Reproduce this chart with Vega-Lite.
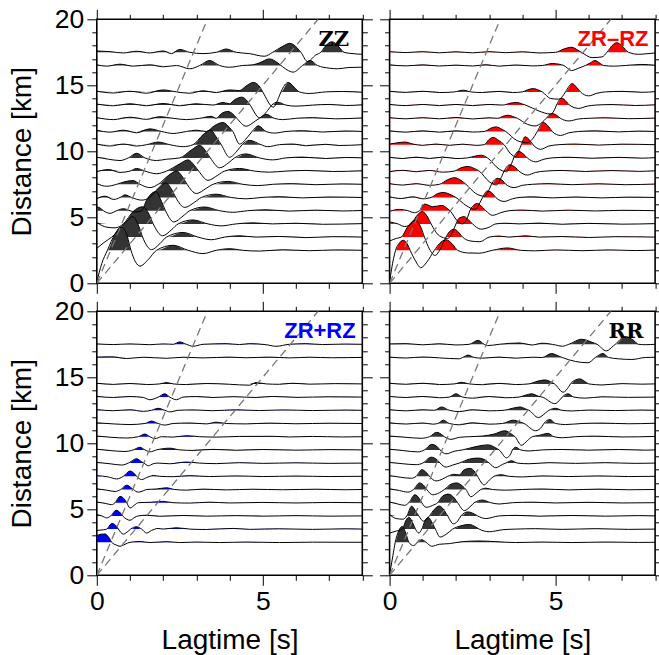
{
"$schema":"https://vega.github.io/schema/vega-lite/v6.json",
"background":"white",
"padding":{"left":6.8,"top":5.3,"right":0,"bottom":0},
"spacing":-1,
"config":{"view":{"stroke":"black","strokeWidth":1.6},
"axis":{"domain":false,"grid":false,"tickColor":"black","tickWidth":1,"labelColor":"black","labelFont":"Liberation Sans","labelFontSize":26.5,"labelPadding":3,"titleFont":"Liberation Sans","titleFontSize":28,"titleFontWeight":"normal","titleColor":"black","labelFlush":false,"labelOverlap":false,"minExtent":0}},
"datasets":{
"g":[{"k":"f","t":0,"y":0},{"k":"f","t":3.333,"y":20},{"k":"s","t":0,"y":0},{"k":"s","t":6.667,"y":20}],
"lab":[{"p":"A","t":7.6,"y":18,"s":"ZZ"},{"p":"B","t":7.8,"y":18,"s":"ZR–RZ"},{"p":"C","t":7.8,"y":18,"s":"ZR+RZ"},{"p":"D","t":7.65,"y":17.95,"s":"RR"}],
"A":[
{"d":2.5,"t":0,"a":-2.4},{"d":2.5,"t":0.15,"a":-1},{"d":2.5,"t":0.32,"a":0},{"d":2.5,"t":0.55,"a":1.25},{"d":2.5,"t":0.74,"a":1.78},{"d":2.5,"t":0.92,"a":1.05},{"d":2.5,"t":1.03,"a":0},{"d":2.5,"t":1.3,"a":-1.2},{"d":2.5,"t":1.55,"a":-0.7},{"d":2.5,"t":1.8,"a":0},{"d":2.5,"t":2.3,"a":0.38},{"d":2.5,"t":2.75,"a":0},{"d":2.5,"t":3.2,"a":-0.25},{"d":2.5,"t":3.6,"a":0},{"d":2.5,"t":4,"a":0.12},{"d":2.5,"t":4.4,"a":0},{"d":2.5,"t":4.9,"a":-0.06},{"d":2.5,"t":5.6,"a":0.04},{"d":2.5,"t":6.4,"a":-0.03},{"d":2.5,"t":7.2,"a":0.03},{"d":2.5,"t":8,"a":0},
{"d":3.5,"t":0,"a":-0.85},{"d":3.5,"t":0.25,"a":-0.35},{"d":3.5,"t":0.45,"a":0},{"d":3.5,"t":0.85,"a":1.05},{"d":3.5,"t":1.08,"a":1.55},{"d":3.5,"t":1.27,"a":0.8},{"d":3.5,"t":1.38,"a":0},{"d":3.5,"t":1.65,"a":-0.95},{"d":3.5,"t":1.9,"a":-0.5},{"d":3.5,"t":2.1,"a":0},{"d":3.5,"t":2.6,"a":0.35},{"d":3.5,"t":3.05,"a":0},{"d":3.5,"t":3.45,"a":-0.2},{"d":3.5,"t":3.85,"a":0},{"d":3.5,"t":4.3,"a":0.1},{"d":3.5,"t":4.8,"a":0},{"d":3.5,"t":5.5,"a":0.05},{"d":3.5,"t":6.3,"a":-0.04},{"d":3.5,"t":7.1,"a":0.03},{"d":3.5,"t":8,"a":0},
{"d":4.5,"t":0,"a":0.1},{"d":4.5,"t":0.3,"a":-0.25},{"d":4.5,"t":0.55,"a":-0.3},{"d":4.5,"t":0.8,"a":0},{"d":4.5,"t":1.1,"a":0.95},{"d":4.5,"t":1.38,"a":1.3},{"d":4.5,"t":1.58,"a":0.7},{"d":4.5,"t":1.7,"a":0},{"d":4.5,"t":1.98,"a":-0.9},{"d":4.5,"t":2.25,"a":-0.45},{"d":4.5,"t":2.45,"a":0},{"d":4.5,"t":2.9,"a":0.3},{"d":4.5,"t":3.35,"a":0},{"d":4.5,"t":3.75,"a":-0.15},{"d":4.5,"t":4.2,"a":0},{"d":4.5,"t":4.7,"a":0.08},{"d":4.5,"t":5.3,"a":0},{"d":4.5,"t":6,"a":0.05},{"d":4.5,"t":6.8,"a":-0.03},{"d":4.5,"t":8,"a":0.02},
{"d":5.5,"t":0,"a":0.3},{"d":5.5,"t":0.1,"a":0.2},{"d":5.5,"t":0.2,"a":0},{"d":5.5,"t":0.4,"a":-0.2},{"d":5.5,"t":0.6,"a":0},{"d":5.5,"t":0.8,"a":0.15},{"d":5.5,"t":1,"a":0},{"d":5.5,"t":1.15,"a":-0.1},{"d":5.5,"t":1.35,"a":0},{"d":5.5,"t":1.5,"a":0.8},{"d":5.5,"t":1.78,"a":1.45},{"d":5.5,"t":1.95,"a":0.7},{"d":5.5,"t":2.07,"a":0},{"d":5.5,"t":2.32,"a":-0.85},{"d":5.5,"t":2.6,"a":-0.4},{"d":5.5,"t":2.8,"a":0},{"d":5.5,"t":3.25,"a":0.28},{"d":5.5,"t":3.7,"a":0},{"d":5.5,"t":4.1,"a":-0.12},{"d":5.5,"t":4.55,"a":0},{"d":5.5,"t":5.1,"a":0.07},{"d":5.5,"t":5.8,"a":-0.03},{"d":5.5,"t":6.6,"a":0.04},{"d":5.5,"t":7.4,"a":-0.02},{"d":5.5,"t":8,"a":0.02},
{"d":6.5,"t":0,"a":-0.1},{"d":6.5,"t":0.25,"a":0.1},{"d":6.5,"t":0.5,"a":-0.15},{"d":6.5,"t":0.7,"a":0},{"d":6.5,"t":0.85,"a":0.2},{"d":6.5,"t":1.05,"a":0},{"d":6.5,"t":1.35,"a":-0.2},{"d":6.5,"t":1.6,"a":0},{"d":6.5,"t":1.85,"a":0.7},{"d":6.5,"t":2.08,"a":1.1},{"d":6.5,"t":2.27,"a":0.55},{"d":6.5,"t":2.38,"a":0},{"d":6.5,"t":2.65,"a":-0.75},{"d":6.5,"t":2.95,"a":-0.35},{"d":6.5,"t":3.15,"a":0},{"d":6.5,"t":3.6,"a":0.25},{"d":6.5,"t":4.05,"a":0},{"d":6.5,"t":4.5,"a":-0.1},{"d":6.5,"t":4.95,"a":0},{"d":6.5,"t":5.5,"a":0.06},{"d":6.5,"t":6.2,"a":-0.03},{"d":6.5,"t":7,"a":0.04},{"d":6.5,"t":8,"a":0},
{"d":7.5,"t":0,"a":0.05},{"d":7.5,"t":0.3,"a":-0.15},{"d":7.5,"t":0.6,"a":0},{"d":7.5,"t":0.85,"a":0.2},{"d":7.5,"t":1.1,"a":0.28},{"d":7.5,"t":1.3,"a":0},{"d":7.5,"t":1.6,"a":-0.25},{"d":7.5,"t":1.85,"a":0},{"d":7.5,"t":2.15,"a":0.65},{"d":7.5,"t":2.4,"a":1},{"d":7.5,"t":2.6,"a":0.5},{"d":7.5,"t":2.72,"a":0},{"d":7.5,"t":3,"a":-0.7},{"d":7.5,"t":3.3,"a":-0.3},{"d":7.5,"t":3.5,"a":0},{"d":7.5,"t":3.95,"a":0.22},{"d":7.5,"t":4.4,"a":0},{"d":7.5,"t":4.85,"a":-0.1},{"d":7.5,"t":5.3,"a":0},{"d":7.5,"t":5.9,"a":0.05},{"d":7.5,"t":6.6,"a":-0.03},{"d":7.5,"t":7.4,"a":0.03},{"d":7.5,"t":8,"a":0},
{"d":8.5,"t":0,"a":-0.05},{"d":8.5,"t":0.35,"a":0.12},{"d":8.5,"t":0.7,"a":-0.1},{"d":8.5,"t":1,"a":0},{"d":8.5,"t":1.2,"a":0.2},{"d":8.5,"t":1.45,"a":0},{"d":8.5,"t":1.8,"a":-0.2},{"d":8.5,"t":2.1,"a":0},{"d":8.5,"t":2.5,"a":0.55},{"d":8.5,"t":2.75,"a":0.85},{"d":8.5,"t":2.95,"a":0.4},{"d":8.5,"t":3.07,"a":0},{"d":8.5,"t":3.35,"a":-0.7},{"d":8.5,"t":3.65,"a":-0.3},{"d":8.5,"t":3.85,"a":0},{"d":8.5,"t":4.3,"a":0.2},{"d":8.5,"t":4.75,"a":0},{"d":8.5,"t":5.2,"a":-0.08},{"d":8.5,"t":5.7,"a":0},{"d":8.5,"t":6.3,"a":0.05},{"d":8.5,"t":7.1,"a":-0.03},{"d":8.5,"t":8,"a":0.02},
{"d":9.5,"t":0,"a":0.05},{"d":9.5,"t":0.35,"a":-0.1},{"d":9.5,"t":0.7,"a":-0.2},{"d":9.5,"t":0.95,"a":0},{"d":9.5,"t":1.2,"a":0.35},{"d":9.5,"t":1.45,"a":0},{"d":9.5,"t":1.8,"a":-0.2},{"d":9.5,"t":2.1,"a":-0.1},{"d":9.5,"t":2.5,"a":0},{"d":9.5,"t":2.85,"a":0.6},{"d":9.5,"t":3.1,"a":0.95},{"d":9.5,"t":3.3,"a":0.45},{"d":9.5,"t":3.42,"a":0},{"d":9.5,"t":3.7,"a":-0.75},{"d":9.5,"t":3.98,"a":-0.35},{"d":9.5,"t":4.15,"a":0},{"d":9.5,"t":4.5,"a":0.3},{"d":9.5,"t":4.9,"a":0},{"d":9.5,"t":5.3,"a":-0.15},{"d":9.5,"t":5.7,"a":0},{"d":9.5,"t":6.2,"a":0.06},{"d":9.5,"t":6.9,"a":-0.05},{"d":9.5,"t":7.5,"a":0.03},{"d":9.5,"t":8,"a":0},
{"d":10.5,"t":0,"a":0.05},{"d":10.5,"t":0.4,"a":-0.1},{"d":10.5,"t":0.8,"a":0.05},{"d":10.5,"t":1.2,"a":-0.1},{"d":10.5,"t":1.5,"a":0},{"d":10.5,"t":1.85,"a":0.2},{"d":10.5,"t":2.2,"a":0},{"d":10.5,"t":2.6,"a":-0.15},{"d":10.5,"t":2.9,"a":0},{"d":10.5,"t":3.2,"a":0.75},{"d":10.5,"t":3.42,"a":1.1},{"d":10.5,"t":3.62,"a":0.5},{"d":10.5,"t":3.75,"a":0},{"d":10.5,"t":4,"a":-0.95},{"d":10.5,"t":4.25,"a":-0.4},{"d":10.5,"t":4.38,"a":0},{"d":10.5,"t":4.6,"a":0.33},{"d":10.5,"t":4.95,"a":0},{"d":10.5,"t":5.15,"a":-0.15},{"d":10.5,"t":5.5,"a":0},{"d":10.5,"t":5.9,"a":0.05},{"d":10.5,"t":6.3,"a":-0.08},{"d":10.5,"t":6.9,"a":0.03},{"d":10.5,"t":7.3,"a":-0.06},{"d":10.5,"t":8,"a":0},
{"d":11.5,"t":0,"a":0.1},{"d":11.5,"t":0.4,"a":-0.05},{"d":11.5,"t":0.8,"a":0.1},{"d":11.5,"t":1.2,"a":-0.1},{"d":11.5,"t":1.6,"a":0.2},{"d":11.5,"t":1.95,"a":0},{"d":11.5,"t":2.3,"a":-0.15},{"d":11.5,"t":2.7,"a":0},{"d":11.5,"t":3,"a":0.1},{"d":11.5,"t":3.3,"a":0},{"d":11.5,"t":3.55,"a":0.45},{"d":11.5,"t":3.8,"a":0.68},{"d":11.5,"t":4,"a":0.3},{"d":11.5,"t":4.1,"a":0},{"d":11.5,"t":4.3,"a":-0.95},{"d":11.5,"t":4.55,"a":-0.4},{"d":11.5,"t":4.68,"a":0},{"d":11.5,"t":4.87,"a":0.43},{"d":11.5,"t":5.1,"a":0},{"d":11.5,"t":5.35,"a":-0.12},{"d":11.5,"t":5.7,"a":0},{"d":11.5,"t":6.2,"a":0.06},{"d":11.5,"t":6.8,"a":-0.04},{"d":11.5,"t":7.5,"a":0.04},{"d":11.5,"t":8,"a":0},
{"d":12.5,"t":0,"a":0.05},{"d":12.5,"t":0.5,"a":-0.1},{"d":12.5,"t":1,"a":0.08},{"d":12.5,"t":1.5,"a":-0.08},{"d":12.5,"t":1.9,"a":0.12},{"d":12.5,"t":2.3,"a":0},{"d":12.5,"t":2.7,"a":-0.1},{"d":12.5,"t":3.1,"a":0},{"d":12.5,"t":3.45,"a":0.15},{"d":12.5,"t":3.6,"a":0},{"d":12.5,"t":3.75,"a":0.35},{"d":12.5,"t":3.95,"a":0.52},{"d":12.5,"t":4.15,"a":0.2},{"d":12.5,"t":4.22,"a":0},{"d":12.5,"t":4.5,"a":-0.6},{"d":12.5,"t":4.78,"a":-0.2},{"d":12.5,"t":4.9,"a":0},{"d":12.5,"t":5.1,"a":0.3},{"d":12.5,"t":5.35,"a":0},{"d":12.5,"t":5.6,"a":-0.1},{"d":12.5,"t":6,"a":0},{"d":12.5,"t":6.5,"a":0.05},{"d":12.5,"t":7.2,"a":-0.04},{"d":12.5,"t":8,"a":0.03},
{"d":13.5,"t":0,"a":0.08},{"d":13.5,"t":0.5,"a":-0.05},{"d":13.5,"t":1,"a":0.1},{"d":13.5,"t":1.5,"a":-0.05},{"d":13.5,"t":2,"a":0.12},{"d":13.5,"t":2.5,"a":-0.05},{"d":13.5,"t":3,"a":0.1},{"d":13.5,"t":3.5,"a":0},{"d":13.5,"t":3.8,"a":0.2},{"d":13.5,"t":4,"a":0.1},{"d":13.5,"t":4.15,"a":0.4},{"d":13.5,"t":4.37,"a":0.6},{"d":13.5,"t":4.55,"a":0.25},{"d":13.5,"t":4.62,"a":0},{"d":13.5,"t":4.9,"a":-0.95},{"d":13.5,"t":5.15,"a":-0.4},{"d":13.5,"t":5.27,"a":0},{"d":13.5,"t":5.45,"a":0.22},{"d":13.5,"t":5.7,"a":0},{"d":13.5,"t":6,"a":-0.08},{"d":13.5,"t":6.5,"a":0},{"d":13.5,"t":7,"a":0.05},{"d":13.5,"t":7.5,"a":-0.03},{"d":13.5,"t":8,"a":0.02},
{"d":14.5,"t":0,"a":0.05},{"d":14.5,"t":0.5,"a":-0.08},{"d":14.5,"t":1,"a":0.05},{"d":14.5,"t":1.5,"a":-0.1},{"d":14.5,"t":2,"a":0.15},{"d":14.5,"t":2.4,"a":0},{"d":14.5,"t":2.8,"a":-0.1},{"d":14.5,"t":3.2,"a":0.08},{"d":14.5,"t":3.6,"a":-0.05},{"d":14.5,"t":4,"a":0.15},{"d":14.5,"t":4.3,"a":0.1},{"d":14.5,"t":4.5,"a":0.45},{"d":14.5,"t":4.72,"a":0.72},{"d":14.5,"t":4.92,"a":0.35},{"d":14.5,"t":5,"a":0},{"d":14.5,"t":5.32,"a":-1.15},{"d":14.5,"t":5.5,"a":-0.3},{"d":14.5,"t":5.55,"a":0},{"d":14.5,"t":5.77,"a":0.72},{"d":14.5,"t":5.95,"a":0.35},{"d":14.5,"t":6.1,"a":0},{"d":14.5,"t":6.4,"a":-0.12},{"d":14.5,"t":6.9,"a":0},{"d":14.5,"t":7.4,"a":0.03},{"d":14.5,"t":8,"a":-0.03},
{"d":16.5,"t":0,"a":0.05},{"d":16.5,"t":0.3,"a":-0.05},{"d":16.5,"t":0.7,"a":0.1},{"d":16.5,"t":1.1,"a":-0.05},{"d":16.5,"t":1.6,"a":0.05},{"d":16.5,"t":2,"a":-0.1},{"d":16.5,"t":2.4,"a":0},{"d":16.5,"t":2.8,"a":-0.25},{"d":16.5,"t":3.1,"a":0},{"d":16.5,"t":3.4,"a":0.38},{"d":16.5,"t":3.7,"a":0},{"d":16.5,"t":4,"a":-0.13},{"d":16.5,"t":4.4,"a":0},{"d":16.5,"t":4.7,"a":0.05},{"d":16.5,"t":4.9,"a":0.2},{"d":16.5,"t":5.2,"a":0.5},{"d":16.5,"t":5.45,"a":0.2},{"d":16.5,"t":5.55,"a":0},{"d":16.5,"t":5.92,"a":-0.5},{"d":16.5,"t":6.2,"a":0},{"d":16.5,"t":6.43,"a":0.38},{"d":16.5,"t":6.65,"a":0},{"d":16.5,"t":7,"a":-0.2},{"d":16.5,"t":7.25,"a":-0.25},{"d":16.5,"t":7.6,"a":-0.15},{"d":16.5,"t":8,"a":-0.13},
{"d":17.5,"t":0,"a":0.1},{"d":17.5,"t":0.4,"a":0.05},{"d":17.5,"t":0.8,"a":-0.05},{"d":17.5,"t":1.2,"a":0.08},{"d":17.5,"t":1.6,"a":-0.05},{"d":17.5,"t":2,"a":0.1},{"d":17.5,"t":2.25,"a":-0.1},{"d":17.5,"t":2.5,"a":0.22},{"d":17.5,"t":2.8,"a":0},{"d":17.5,"t":3.2,"a":-0.1},{"d":17.5,"t":3.6,"a":0},{"d":17.5,"t":3.9,"a":0.25},{"d":17.5,"t":4.2,"a":0},{"d":17.5,"t":4.6,"a":-0.1},{"d":17.5,"t":5.05,"a":-0.3},{"d":17.5,"t":5.3,"a":0},{"d":17.5,"t":5.6,"a":0.45},{"d":17.5,"t":5.82,"a":0.68},{"d":17.5,"t":6.05,"a":0.3},{"d":17.5,"t":6.15,"a":0},{"d":17.5,"t":6.35,"a":-0.7},{"d":17.5,"t":6.6,"a":-0.2},{"d":17.5,"t":6.75,"a":0},{"d":17.5,"t":6.9,"a":0.5},{"d":17.5,"t":7.08,"a":0.8},{"d":17.5,"t":7.3,"a":0.4},{"d":17.5,"t":7.45,"a":0},{"d":17.5,"t":7.63,"a":-0.08},{"d":17.5,"t":8,"a":-0.15}
],
"B":[
{"d":2.5,"t":0,"a":-2.4},{"d":2.5,"t":0.12,"a":-0.6},{"d":2.5,"t":0.18,"a":0},{"d":2.5,"t":0.28,"a":0.5},{"d":2.5,"t":0.41,"a":0.76},{"d":2.5,"t":0.55,"a":0.4},{"d":2.5,"t":0.62,"a":0},{"d":2.5,"t":0.78,"a":-0.8},{"d":2.5,"t":0.94,"a":-1.32},{"d":2.5,"t":1.12,"a":-0.9},{"d":2.5,"t":1.35,"a":0},{"d":2.5,"t":1.5,"a":0.5},{"d":2.5,"t":1.7,"a":0.8},{"d":2.5,"t":1.9,"a":0.45},{"d":2.5,"t":2.05,"a":0},{"d":2.5,"t":2.35,"a":-0.2},{"d":2.5,"t":2.7,"a":-0.22},{"d":2.5,"t":3.1,"a":0},{"d":2.5,"t":3.55,"a":0.18},{"d":2.5,"t":3.95,"a":0},{"d":2.5,"t":4.4,"a":-0.04},{"d":2.5,"t":5,"a":0.03},{"d":2.5,"t":5.8,"a":-0.03},{"d":2.5,"t":6.6,"a":0.03},{"d":2.5,"t":7.4,"a":-0.02},{"d":2.5,"t":8,"a":0.02},
{"d":3.5,"t":0,"a":-0.3},{"d":3.5,"t":0.2,"a":-0.1},{"d":3.5,"t":0.35,"a":0},{"d":3.5,"t":0.55,"a":0.8},{"d":3.5,"t":0.76,"a":1.27},{"d":3.5,"t":0.95,"a":0.7},{"d":3.5,"t":1.05,"a":0},{"d":3.5,"t":1.2,"a":-0.9},{"d":3.5,"t":1.37,"a":-1.39},{"d":3.5,"t":1.55,"a":-0.8},{"d":3.5,"t":1.7,"a":0},{"d":3.5,"t":1.8,"a":0.4},{"d":3.5,"t":1.95,"a":0.6},{"d":3.5,"t":2.1,"a":0.3},{"d":3.5,"t":2.2,"a":0},{"d":3.5,"t":2.45,"a":-0.3},{"d":3.5,"t":2.72,"a":-0.35},{"d":3.5,"t":3,"a":0},{"d":3.5,"t":3.3,"a":0.08},{"d":3.5,"t":3.6,"a":0},{"d":3.5,"t":4.1,"a":0.1},{"d":3.5,"t":4.5,"a":0},{"d":3.5,"t":5.2,"a":0.04},{"d":3.5,"t":6,"a":-0.03},{"d":3.5,"t":6.8,"a":0.03},{"d":3.5,"t":8,"a":0},
{"d":4.5,"t":0,"a":0.15},{"d":4.5,"t":0.25,"a":0},{"d":4.5,"t":0.45,"a":-0.2},{"d":4.5,"t":0.65,"a":0},{"d":4.5,"t":0.8,"a":0.55},{"d":4.5,"t":0.98,"a":0.94},{"d":4.5,"t":1.15,"a":0.5},{"d":4.5,"t":1.25,"a":0},{"d":4.5,"t":1.5,"a":-0.9},{"d":4.5,"t":1.75,"a":-1.1},{"d":4.5,"t":1.9,"a":-0.6},{"d":4.5,"t":2,"a":0},{"d":4.5,"t":2.1,"a":0.45},{"d":4.5,"t":2.25,"a":0.55},{"d":4.5,"t":2.4,"a":0.25},{"d":4.5,"t":2.5,"a":0},{"d":4.5,"t":2.75,"a":-0.4},{"d":4.5,"t":3,"a":-0.25},{"d":4.5,"t":3.2,"a":0},{"d":4.5,"t":3.5,"a":0.05},{"d":4.5,"t":3.9,"a":0},{"d":4.5,"t":4.5,"a":0.06},{"d":4.5,"t":5.2,"a":-0.03},{"d":4.5,"t":6,"a":0.04},{"d":4.5,"t":7,"a":-0.02},{"d":4.5,"t":8,"a":0.02},
{"d":5.5,"t":0,"a":-0.05},{"d":5.5,"t":0.3,"a":0.1},{"d":5.5,"t":0.55,"a":0},{"d":5.5,"t":0.75,"a":-0.15},{"d":5.5,"t":0.9,"a":0},{"d":5.5,"t":1.06,"a":0.5},{"d":5.5,"t":1.3,"a":0.3},{"d":5.5,"t":1.57,"a":0.4},{"d":5.5,"t":1.75,"a":0.15},{"d":5.5,"t":1.82,"a":0},{"d":5.5,"t":2.05,"a":-0.8},{"d":5.5,"t":2.2,"a":-1},{"d":5.5,"t":2.35,"a":-0.5},{"d":5.5,"t":2.42,"a":0},{"d":5.5,"t":2.55,"a":0.45},{"d":5.5,"t":2.65,"a":0.55},{"d":5.5,"t":2.8,"a":0.25},{"d":5.5,"t":2.9,"a":0},{"d":5.5,"t":3.1,"a":-0.35},{"d":5.5,"t":3.35,"a":-0.15},{"d":5.5,"t":3.6,"a":0},{"d":5.5,"t":4,"a":0.05},{"d":5.5,"t":4.6,"a":-0.03},{"d":5.5,"t":5.4,"a":0.04},{"d":5.5,"t":6.2,"a":-0.02},{"d":5.5,"t":7,"a":0.03},{"d":5.5,"t":8,"a":0},
{"d":6.5,"t":0,"a":0.05},{"d":6.5,"t":0.35,"a":-0.08},{"d":6.5,"t":0.7,"a":0.05},{"d":6.5,"t":1,"a":-0.1},{"d":6.5,"t":1.25,"a":0},{"d":6.5,"t":1.45,"a":0.3},{"d":6.5,"t":1.62,"a":0.38},{"d":6.5,"t":1.85,"a":0.2},{"d":6.5,"t":2,"a":0},{"d":6.5,"t":2.3,"a":-0.6},{"d":6.5,"t":2.57,"a":-0.9},{"d":6.5,"t":2.72,"a":-0.4},{"d":6.5,"t":2.8,"a":0},{"d":6.5,"t":2.95,"a":0.5},{"d":6.5,"t":3.1,"a":0.3},{"d":6.5,"t":3.2,"a":0},{"d":6.5,"t":3.45,"a":-0.3},{"d":6.5,"t":3.7,"a":-0.1},{"d":6.5,"t":3.9,"a":0},{"d":6.5,"t":4.3,"a":0.05},{"d":6.5,"t":4.9,"a":-0.03},{"d":6.5,"t":5.6,"a":0.04},{"d":6.5,"t":6.4,"a":-0.03},{"d":6.5,"t":7.2,"a":0.03},{"d":6.5,"t":8,"a":0},
{"d":7.5,"t":0,"a":0.05},{"d":7.5,"t":0.4,"a":-0.06},{"d":7.5,"t":0.8,"a":0.05},{"d":7.5,"t":1.2,"a":-0.08},{"d":7.5,"t":1.5,"a":0},{"d":7.5,"t":1.75,"a":0.35},{"d":7.5,"t":1.95,"a":0.5},{"d":7.5,"t":2.15,"a":0.3},{"d":7.5,"t":2.3,"a":0},{"d":7.5,"t":2.6,"a":-0.7},{"d":7.5,"t":2.85,"a":-0.9},{"d":7.5,"t":3,"a":-0.4},{"d":7.5,"t":3.07,"a":0},{"d":7.5,"t":3.25,"a":0.45},{"d":7.5,"t":3.42,"a":0.25},{"d":7.5,"t":3.5,"a":0},{"d":7.5,"t":3.75,"a":-0.25},{"d":7.5,"t":4,"a":-0.08},{"d":7.5,"t":4.3,"a":0},{"d":7.5,"t":4.8,"a":0.05},{"d":7.5,"t":5.5,"a":-0.03},{"d":7.5,"t":6.3,"a":0.04},{"d":7.5,"t":7.1,"a":-0.03},{"d":7.5,"t":8,"a":0.02},
{"d":8.5,"t":0,"a":-0.05},{"d":8.5,"t":0.4,"a":0.06},{"d":8.5,"t":0.8,"a":-0.05},{"d":8.5,"t":1.2,"a":0.05},{"d":8.5,"t":1.6,"a":-0.08},{"d":8.5,"t":1.95,"a":0},{"d":8.5,"t":2.15,"a":0.25},{"d":8.5,"t":2.37,"a":0.35},{"d":8.5,"t":2.55,"a":0.2},{"d":8.5,"t":2.7,"a":0},{"d":8.5,"t":3,"a":-0.8},{"d":8.5,"t":3.22,"a":-1.05},{"d":8.5,"t":3.38,"a":-0.4},{"d":8.5,"t":3.45,"a":0},{"d":8.5,"t":3.62,"a":0.48},{"d":8.5,"t":3.8,"a":0.25},{"d":8.5,"t":3.9,"a":0},{"d":8.5,"t":4.15,"a":-0.3},{"d":8.5,"t":4.4,"a":-0.1},{"d":8.5,"t":4.7,"a":0},{"d":8.5,"t":5.2,"a":0.05},{"d":8.5,"t":5.9,"a":-0.03},{"d":8.5,"t":6.7,"a":0.04},{"d":8.5,"t":7.5,"a":-0.02},{"d":8.5,"t":8,"a":0.02},
{"d":9.5,"t":0,"a":0.05},{"d":9.5,"t":0.4,"a":-0.05},{"d":9.5,"t":0.8,"a":0.06},{"d":9.5,"t":1.2,"a":-0.05},{"d":9.5,"t":1.6,"a":0.06},{"d":9.5,"t":2,"a":-0.05},{"d":9.5,"t":2.35,"a":0},{"d":9.5,"t":2.6,"a":0.15},{"d":9.5,"t":2.77,"a":0.2},{"d":9.5,"t":2.95,"a":0},{"d":9.5,"t":3.3,"a":-0.85},{"d":9.5,"t":3.52,"a":-1.05},{"d":9.5,"t":3.68,"a":-0.4},{"d":9.5,"t":3.74,"a":0},{"d":9.5,"t":3.88,"a":0.5},{"d":9.5,"t":4.05,"a":0.25},{"d":9.5,"t":4.15,"a":0},{"d":9.5,"t":4.4,"a":-0.3},{"d":9.5,"t":4.65,"a":-0.1},{"d":9.5,"t":4.9,"a":0},{"d":9.5,"t":5.4,"a":0.05},{"d":9.5,"t":6.1,"a":-0.03},{"d":9.5,"t":6.9,"a":0.04},{"d":9.5,"t":7.6,"a":-0.02},{"d":9.5,"t":8,"a":0.02},
{"d":10.5,"t":0,"a":0.05},{"d":10.5,"t":0.25,"a":0.15},{"d":10.5,"t":0.46,"a":0.2},{"d":10.5,"t":0.7,"a":0.05},{"d":10.5,"t":1,"a":-0.05},{"d":10.5,"t":1.4,"a":0.05},{"d":10.5,"t":1.8,"a":-0.05},{"d":10.5,"t":2.2,"a":0.04},{"d":10.5,"t":2.6,"a":-0.05},{"d":10.5,"t":2.85,"a":0},{"d":10.5,"t":3,"a":0.4},{"d":10.5,"t":3.12,"a":0.55},{"d":10.5,"t":3.3,"a":0.3},{"d":10.5,"t":3.45,"a":0},{"d":10.5,"t":3.65,"a":-0.7},{"d":10.5,"t":3.8,"a":-0.9},{"d":10.5,"t":3.92,"a":-0.3},{"d":10.5,"t":3.97,"a":0},{"d":10.5,"t":4.08,"a":0.6},{"d":10.5,"t":4.2,"a":0.4},{"d":10.5,"t":4.32,"a":0},{"d":10.5,"t":4.55,"a":-0.35},{"d":10.5,"t":4.8,"a":-0.1},{"d":10.5,"t":5.1,"a":0},{"d":10.5,"t":5.6,"a":0.05},{"d":10.5,"t":6.3,"a":-0.03},{"d":10.5,"t":7,"a":0.04},{"d":10.5,"t":8,"a":0},
{"d":11.5,"t":0,"a":0.05},{"d":11.5,"t":0.5,"a":-0.05},{"d":11.5,"t":1,"a":0.05},{"d":11.5,"t":1.5,"a":-0.05},{"d":11.5,"t":2,"a":0.05},{"d":11.5,"t":2.5,"a":-0.04},{"d":11.5,"t":2.85,"a":0},{"d":11.5,"t":3.05,"a":0.25},{"d":11.5,"t":3.2,"a":0.35},{"d":11.5,"t":3.4,"a":0.15},{"d":11.5,"t":3.5,"a":0},{"d":11.5,"t":3.85,"a":-0.7},{"d":11.5,"t":4.15,"a":-0.85},{"d":11.5,"t":4.38,"a":-0.3},{"d":11.5,"t":4.45,"a":0},{"d":11.5,"t":4.63,"a":0.68},{"d":11.5,"t":4.8,"a":0.35},{"d":11.5,"t":4.9,"a":0},{"d":11.5,"t":5.15,"a":-0.3},{"d":11.5,"t":5.4,"a":-0.1},{"d":11.5,"t":5.7,"a":0},{"d":11.5,"t":6.2,"a":0.05},{"d":11.5,"t":6.9,"a":-0.03},{"d":11.5,"t":7.5,"a":0.03},{"d":11.5,"t":8,"a":0},
{"d":12.5,"t":0,"a":0.05},{"d":12.5,"t":0.5,"a":-0.04},{"d":12.5,"t":1,"a":0.05},{"d":12.5,"t":1.5,"a":-0.04},{"d":12.5,"t":2,"a":0.06},{"d":12.5,"t":2.5,"a":-0.05},{"d":12.5,"t":3,"a":0.04},{"d":12.5,"t":3.25,"a":0},{"d":12.5,"t":3.45,"a":0.18},{"d":12.5,"t":3.57,"a":0.23},{"d":12.5,"t":3.75,"a":0.1},{"d":12.5,"t":3.85,"a":0},{"d":12.5,"t":4.15,"a":-0.45},{"d":12.5,"t":4.38,"a":-0.58},{"d":12.5,"t":4.6,"a":-0.3},{"d":12.5,"t":4.72,"a":0},{"d":12.5,"t":4.88,"a":0.36},{"d":12.5,"t":5.05,"a":0.2},{"d":12.5,"t":5.15,"a":0},{"d":12.5,"t":5.4,"a":-0.2},{"d":12.5,"t":5.7,"a":-0.05},{"d":12.5,"t":6,"a":0},{"d":12.5,"t":6.5,"a":0.04},{"d":12.5,"t":7.2,"a":-0.03},{"d":12.5,"t":8,"a":0.02},
{"d":13.5,"t":0,"a":0.05},{"d":13.5,"t":0.5,"a":-0.04},{"d":13.5,"t":1,"a":0.05},{"d":13.5,"t":1.5,"a":-0.04},{"d":13.5,"t":2,"a":0.05},{"d":13.5,"t":2.5,"a":-0.04},{"d":13.5,"t":3,"a":0.05},{"d":13.5,"t":3.4,"a":0},{"d":13.5,"t":3.65,"a":0.15},{"d":13.5,"t":3.83,"a":0.2},{"d":13.5,"t":4,"a":0.08},{"d":13.5,"t":4.1,"a":0},{"d":13.5,"t":4.5,"a":-0.45},{"d":13.5,"t":4.85,"a":-0.68},{"d":13.5,"t":4.98,"a":-0.3},{"d":13.5,"t":5.03,"a":0},{"d":13.5,"t":5.18,"a":0.53},{"d":13.5,"t":5.33,"a":0.25},{"d":13.5,"t":5.42,"a":0},{"d":13.5,"t":5.7,"a":-0.25},{"d":13.5,"t":5.95,"a":-0.08},{"d":13.5,"t":6.2,"a":0},{"d":13.5,"t":6.7,"a":0.04},{"d":13.5,"t":7.4,"a":-0.03},{"d":13.5,"t":8,"a":0.02},
{"d":14.5,"t":0,"a":0.05},{"d":14.5,"t":0.5,"a":-0.04},{"d":14.5,"t":1,"a":0.05},{"d":14.5,"t":1.5,"a":-0.05},{"d":14.5,"t":1.95,"a":0},{"d":14.5,"t":2.22,"a":0.13},{"d":14.5,"t":2.45,"a":0},{"d":14.5,"t":2.8,"a":-0.05},{"d":14.5,"t":3.3,"a":0.04},{"d":14.5,"t":3.7,"a":-0.05},{"d":14.5,"t":4,"a":0},{"d":14.5,"t":4.15,"a":0.15},{"d":14.5,"t":4.33,"a":0.25},{"d":14.5,"t":4.5,"a":0.12},{"d":14.5,"t":4.6,"a":0},{"d":14.5,"t":4.85,"a":-0.5},{"d":14.5,"t":5.1,"a":-0.55},{"d":14.5,"t":5.25,"a":-0.2},{"d":14.5,"t":5.3,"a":0},{"d":14.5,"t":5.5,"a":0.63},{"d":14.5,"t":5.65,"a":0.3},{"d":14.5,"t":5.75,"a":0},{"d":14.5,"t":6,"a":-0.3},{"d":14.5,"t":6.25,"a":-0.1},{"d":14.5,"t":6.5,"a":0},{"d":14.5,"t":7,"a":0.04},{"d":14.5,"t":7.6,"a":-0.03},{"d":14.5,"t":8,"a":0.02},
{"d":16.5,"t":0,"a":0.05},{"d":16.5,"t":0.5,"a":-0.03},{"d":16.5,"t":1,"a":0.05},{"d":16.5,"t":1.5,"a":-0.04},{"d":16.5,"t":2,"a":0.03},{"d":16.5,"t":2.5,"a":-0.04},{"d":16.5,"t":2.9,"a":0.06},{"d":16.5,"t":3.3,"a":-0.05},{"d":16.5,"t":3.8,"a":0.04},{"d":16.5,"t":4.3,"a":-0.03},{"d":16.5,"t":4.6,"a":0},{"d":16.5,"t":4.9,"a":0.15},{"d":16.5,"t":5.1,"a":0.1},{"d":16.5,"t":5.25,"a":0},{"d":16.5,"t":5.48,"a":-0.38},{"d":16.5,"t":5.7,"a":-0.2},{"d":16.5,"t":5.9,"a":0},{"d":16.5,"t":6.05,"a":0.2},{"d":16.5,"t":6.18,"a":0.38},{"d":16.5,"t":6.35,"a":0.15},{"d":16.5,"t":6.45,"a":0},{"d":16.5,"t":6.75,"a":-0.05},{"d":16.5,"t":7.1,"a":0},{"d":16.5,"t":7.6,"a":0.08},{"d":16.5,"t":8,"a":0.02},
{"d":17.5,"t":0,"a":0.05},{"d":17.5,"t":0.5,"a":-0.02},{"d":17.5,"t":1,"a":0.05},{"d":17.5,"t":1.5,"a":-0.04},{"d":17.5,"t":2,"a":0.04},{"d":17.5,"t":2.5,"a":-0.04},{"d":17.5,"t":3,"a":0.05},{"d":17.5,"t":3.5,"a":-0.03},{"d":17.5,"t":4,"a":0.04},{"d":17.5,"t":4.5,"a":-0.05},{"d":17.5,"t":5,"a":0},{"d":17.5,"t":5.25,"a":0.25},{"d":17.5,"t":5.48,"a":0.38},{"d":17.5,"t":5.68,"a":0.15},{"d":17.5,"t":5.78,"a":0},{"d":17.5,"t":6.1,"a":-0.4},{"d":17.5,"t":6.4,"a":-0.35},{"d":17.5,"t":6.55,"a":0},{"d":17.5,"t":6.7,"a":0.5},{"d":17.5,"t":6.84,"a":0.73},{"d":17.5,"t":7,"a":0.5},{"d":17.5,"t":7.2,"a":0},{"d":17.5,"t":7.5,"a":-0.15},{"d":17.5,"t":7.7,"a":-0.12},{"d":17.5,"t":8,"a":-0.05}
],
"C":[
{"d":2.5,"t":0,"a":0.5},{"d":2.5,"t":0.1,"a":0.6},{"d":2.5,"t":0.25,"a":0.63},{"d":2.5,"t":0.38,"a":0.3},{"d":2.5,"t":0.45,"a":0},{"d":2.5,"t":0.58,"a":-0.2},{"d":2.5,"t":0.7,"a":-0.3},{"d":2.5,"t":0.85,"a":-0.15},{"d":2.5,"t":1,"a":0},{"d":2.5,"t":1.3,"a":0.06},{"d":2.5,"t":1.6,"a":-0.02},{"d":2.5,"t":2.1,"a":0.05},{"d":2.5,"t":2.5,"a":-0.02},{"d":2.5,"t":3,"a":0.02},{"d":2.5,"t":3.7,"a":-0.02},{"d":2.5,"t":4.5,"a":0.02},{"d":2.5,"t":5.5,"a":-0.02},{"d":2.5,"t":6.5,"a":0.01},{"d":2.5,"t":8,"a":0},
{"d":3.5,"t":0,"a":-0.1},{"d":3.5,"t":0.2,"a":-0.05},{"d":3.5,"t":0.3,"a":0},{"d":3.5,"t":0.45,"a":0.43},{"d":3.5,"t":0.6,"a":0.2},{"d":3.5,"t":0.65,"a":0},{"d":3.5,"t":0.8,"a":-0.38},{"d":3.5,"t":0.95,"a":-0.15},{"d":3.5,"t":1.02,"a":0},{"d":3.5,"t":1.2,"a":0.18},{"d":3.5,"t":1.35,"a":0},{"d":3.5,"t":1.5,"a":-0.3},{"d":3.5,"t":1.65,"a":-0.1},{"d":3.5,"t":1.75,"a":0},{"d":3.5,"t":1.85,"a":0.05},{"d":3.5,"t":2,"a":0},{"d":3.5,"t":2.4,"a":0.1},{"d":3.5,"t":2.8,"a":0},{"d":3.5,"t":3.3,"a":-0.03},{"d":3.5,"t":4.1,"a":0.05},{"d":3.5,"t":4.6,"a":-0.02},{"d":3.5,"t":5.5,"a":0.02},{"d":3.5,"t":6.5,"a":-0.02},{"d":3.5,"t":7.5,"a":0.02},{"d":3.5,"t":8,"a":0},
{"d":4.5,"t":0,"a":0.1},{"d":4.5,"t":0.15,"a":0},{"d":4.5,"t":0.3,"a":-0.15},{"d":4.5,"t":0.42,"a":0},{"d":4.5,"t":0.58,"a":0.43},{"d":4.5,"t":0.72,"a":0.2},{"d":4.5,"t":0.78,"a":0},{"d":4.5,"t":0.9,"a":-0.25},{"d":4.5,"t":1,"a":-0.33},{"d":4.5,"t":1.15,"a":-0.1},{"d":4.5,"t":1.25,"a":0},{"d":4.5,"t":1.5,"a":0.05},{"d":4.5,"t":1.9,"a":-0.03},{"d":4.5,"t":2.6,"a":0.03},{"d":4.5,"t":3.3,"a":-0.02},{"d":4.5,"t":4.2,"a":0.02},{"d":4.5,"t":5,"a":-0.02},{"d":4.5,"t":6,"a":0.02},{"d":4.5,"t":7,"a":-0.02},{"d":4.5,"t":8,"a":0},
{"d":5.5,"t":0,"a":0.05},{"d":5.5,"t":0.25,"a":-0.05},{"d":5.5,"t":0.45,"a":-0.15},{"d":5.5,"t":0.55,"a":0},{"d":5.5,"t":0.7,"a":0.48},{"d":5.5,"t":0.85,"a":0.2},{"d":5.5,"t":0.9,"a":0},{"d":5.5,"t":1,"a":-0.4},{"d":5.5,"t":1.15,"a":-0.15},{"d":5.5,"t":1.25,"a":0},{"d":5.5,"t":1.6,"a":0.03},{"d":5.5,"t":2,"a":0.1},{"d":5.5,"t":2.3,"a":0},{"d":5.5,"t":2.8,"a":-0.03},{"d":5.5,"t":3.4,"a":0.04},{"d":5.5,"t":4,"a":-0.02},{"d":5.5,"t":5,"a":0.02},{"d":5.5,"t":6,"a":-0.02},{"d":5.5,"t":7,"a":0.02},{"d":5.5,"t":8,"a":0},
{"d":6.5,"t":0,"a":0.05},{"d":6.5,"t":0.3,"a":-0.05},{"d":6.5,"t":0.55,"a":-0.15},{"d":6.5,"t":0.72,"a":0},{"d":6.5,"t":0.9,"a":0.33},{"d":6.5,"t":1.05,"a":0.1},{"d":6.5,"t":1.1,"a":0},{"d":6.5,"t":1.25,"a":-0.2},{"d":6.5,"t":1.4,"a":-0.1},{"d":6.5,"t":1.5,"a":0},{"d":6.5,"t":1.8,"a":0.04},{"d":6.5,"t":2.1,"a":0.13},{"d":6.5,"t":2.35,"a":0},{"d":6.5,"t":2.7,"a":-0.05},{"d":6.5,"t":3.2,"a":0.03},{"d":6.5,"t":3.9,"a":-0.03},{"d":6.5,"t":4.7,"a":0.02},{"d":6.5,"t":5.6,"a":-0.02},{"d":6.5,"t":6.6,"a":0.02},{"d":6.5,"t":7.5,"a":-0.02},{"d":6.5,"t":8,"a":0},
{"d":7.5,"t":0,"a":0.05},{"d":7.5,"t":0.35,"a":-0.05},{"d":7.5,"t":0.6,"a":-0.2},{"d":7.5,"t":0.8,"a":0},{"d":7.5,"t":1,"a":0.4},{"d":7.5,"t":1.15,"a":0.15},{"d":7.5,"t":1.2,"a":0},{"d":7.5,"t":1.35,"a":-0.25},{"d":7.5,"t":1.5,"a":-0.1},{"d":7.5,"t":1.6,"a":0},{"d":7.5,"t":1.7,"a":0.06},{"d":7.5,"t":1.9,"a":0},{"d":7.5,"t":2.3,"a":-0.03},{"d":7.5,"t":2.8,"a":0.05},{"d":7.5,"t":3.4,"a":-0.02},{"d":7.5,"t":4.2,"a":0.03},{"d":7.5,"t":5,"a":-0.02},{"d":7.5,"t":6,"a":0.02},{"d":7.5,"t":7,"a":-0.02},{"d":7.5,"t":8,"a":0},
{"d":8.5,"t":0,"a":0.05},{"d":8.5,"t":0.4,"a":-0.05},{"d":8.5,"t":0.75,"a":-0.15},{"d":8.5,"t":0.95,"a":0},{"d":8.5,"t":1.2,"a":0.33},{"d":8.5,"t":1.35,"a":0.1},{"d":8.5,"t":1.42,"a":0},{"d":8.5,"t":1.55,"a":-0.2},{"d":8.5,"t":1.7,"a":-0.05},{"d":8.5,"t":1.85,"a":0},{"d":8.5,"t":2.2,"a":-0.05},{"d":8.5,"t":2.7,"a":0.08},{"d":8.5,"t":3.1,"a":0},{"d":8.5,"t":3.6,"a":-0.04},{"d":8.5,"t":4.3,"a":0.03},{"d":8.5,"t":5,"a":-0.02},{"d":8.5,"t":6,"a":0.02},{"d":8.5,"t":7,"a":-0.02},{"d":8.5,"t":8,"a":0},
{"d":9.5,"t":0,"a":0.05},{"d":9.5,"t":0.4,"a":-0.05},{"d":9.5,"t":0.85,"a":-0.12},{"d":9.5,"t":1.1,"a":0},{"d":9.5,"t":1.3,"a":0.2},{"d":9.5,"t":1.45,"a":0},{"d":9.5,"t":1.6,"a":-0.15},{"d":9.5,"t":1.8,"a":0},{"d":9.5,"t":2.2,"a":0.13},{"d":9.5,"t":2.5,"a":0},{"d":9.5,"t":2.9,"a":-0.04},{"d":9.5,"t":3.5,"a":0.04},{"d":9.5,"t":4.2,"a":-0.03},{"d":9.5,"t":5,"a":0.03},{"d":9.5,"t":6,"a":-0.02},{"d":9.5,"t":7,"a":0.02},{"d":9.5,"t":8,"a":0},
{"d":10.5,"t":0,"a":0.05},{"d":10.5,"t":0.4,"a":-0.04},{"d":10.5,"t":0.9,"a":-0.1},{"d":10.5,"t":1.25,"a":0},{"d":10.5,"t":1.45,"a":0.2},{"d":10.5,"t":1.6,"a":0},{"d":10.5,"t":1.75,"a":-0.15},{"d":10.5,"t":1.95,"a":0},{"d":10.5,"t":2.3,"a":-0.03},{"d":10.5,"t":2.7,"a":0.08},{"d":10.5,"t":3.1,"a":0},{"d":10.5,"t":3.6,"a":-0.03},{"d":10.5,"t":4.3,"a":0.02},{"d":10.5,"t":5.3,"a":0.03},{"d":10.5,"t":5.8,"a":-0.02},{"d":10.5,"t":6.5,"a":0.02},{"d":10.5,"t":7.4,"a":-0.02},{"d":10.5,"t":8,"a":0},
{"d":11.5,"t":0,"a":0.05},{"d":11.5,"t":0.5,"a":-0.03},{"d":11.5,"t":1,"a":-0.08},{"d":11.5,"t":1.45,"a":0},{"d":11.5,"t":1.65,"a":0.18},{"d":11.5,"t":1.85,"a":0},{"d":11.5,"t":2.05,"a":-0.12},{"d":11.5,"t":2.3,"a":0},{"d":11.5,"t":2.8,"a":0.04},{"d":11.5,"t":3.3,"a":-0.03},{"d":11.5,"t":3.6,"a":0.1},{"d":11.5,"t":3.9,"a":0},{"d":11.5,"t":4.5,"a":-0.03},{"d":11.5,"t":5.2,"a":0.03},{"d":11.5,"t":6,"a":-0.02},{"d":11.5,"t":7,"a":0.02},{"d":11.5,"t":8,"a":0},
{"d":12.5,"t":0,"a":0.05},{"d":12.5,"t":0.5,"a":-0.03},{"d":12.5,"t":1,"a":0.04},{"d":12.5,"t":1.4,"a":-0.08},{"d":12.5,"t":1.65,"a":0},{"d":12.5,"t":1.85,"a":0.15},{"d":12.5,"t":2.05,"a":0},{"d":12.5,"t":2.2,"a":-0.12},{"d":12.5,"t":2.45,"a":0},{"d":12.5,"t":2.9,"a":0.03},{"d":12.5,"t":3.5,"a":-0.03},{"d":12.5,"t":4.2,"a":0.04},{"d":12.5,"t":4.9,"a":-0.02},{"d":12.5,"t":5.6,"a":0.03},{"d":12.5,"t":6.5,"a":-0.02},{"d":12.5,"t":7.5,"a":0.02},{"d":12.5,"t":8,"a":0},
{"d":13.5,"t":0,"a":0.05},{"d":13.5,"t":0.5,"a":-0.03},{"d":13.5,"t":1,"a":0.04},{"d":13.5,"t":1.4,"a":-0.03},{"d":13.5,"t":1.6,"a":-0.2},{"d":13.5,"t":1.85,"a":0},{"d":13.5,"t":2.05,"a":0.25},{"d":13.5,"t":2.2,"a":0},{"d":13.5,"t":2.4,"a":-0.2},{"d":13.5,"t":2.6,"a":0},{"d":13.5,"t":3,"a":0.04},{"d":13.5,"t":3.5,"a":-0.03},{"d":13.5,"t":4.1,"a":0.03},{"d":13.5,"t":4.8,"a":-0.03},{"d":13.5,"t":5.3,"a":0.05},{"d":13.5,"t":6,"a":-0.02},{"d":13.5,"t":7,"a":0.02},{"d":13.5,"t":8,"a":0},
{"d":14.5,"t":0,"a":0.05},{"d":14.5,"t":0.5,"a":-0.04},{"d":14.5,"t":1,"a":0.03},{"d":14.5,"t":1.5,"a":-0.05},{"d":14.5,"t":1.9,"a":0},{"d":14.5,"t":2.1,"a":0.1},{"d":14.5,"t":2.3,"a":0},{"d":14.5,"t":2.7,"a":-0.05},{"d":14.5,"t":3.3,"a":0.03},{"d":14.5,"t":4,"a":-0.03},{"d":14.5,"t":4.6,"a":-0.1},{"d":14.5,"t":4.8,"a":0.1},{"d":14.5,"t":5.1,"a":0},{"d":14.5,"t":5.5,"a":-0.03},{"d":14.5,"t":5.9,"a":0.05},{"d":14.5,"t":6.4,"a":-0.02},{"d":14.5,"t":7.2,"a":0.02},{"d":14.5,"t":8,"a":0},
{"d":16.5,"t":0,"a":0.03},{"d":16.5,"t":0.45,"a":0.05},{"d":16.5,"t":0.9,"a":-0.08},{"d":16.5,"t":1.4,"a":0.02},{"d":16.5,"t":2.1,"a":-0.06},{"d":16.5,"t":2.6,"a":0.02},{"d":16.5,"t":3.2,"a":-0.03},{"d":16.5,"t":4,"a":0.03},{"d":16.5,"t":4.5,"a":-0.02},{"d":16.5,"t":5.2,"a":0.03},{"d":16.5,"t":5.8,"a":-0.03},{"d":16.5,"t":6.4,"a":0.02},{"d":16.5,"t":7.1,"a":-0.02},{"d":16.5,"t":8,"a":0.01},
{"d":17.5,"t":0,"a":0.03},{"d":17.5,"t":0.5,"a":-0.02},{"d":17.5,"t":1,"a":0.03},{"d":17.5,"t":1.6,"a":-0.03},{"d":17.5,"t":2,"a":0.03},{"d":17.5,"t":2.3,"a":0},{"d":17.5,"t":2.5,"a":0.18},{"d":17.5,"t":2.7,"a":0},{"d":17.5,"t":2.9,"a":-0.15},{"d":17.5,"t":3.2,"a":0},{"d":17.5,"t":3.9,"a":0.05},{"d":17.5,"t":4.3,"a":-0.02},{"d":17.5,"t":4.6,"a":0.05},{"d":17.5,"t":5.1,"a":-0.03},{"d":17.5,"t":5.4,"a":-0.15},{"d":17.5,"t":5.8,"a":0},{"d":17.5,"t":6.3,"a":0.05},{"d":17.5,"t":6.8,"a":-0.02},{"d":17.5,"t":7.5,"a":0.02},{"d":17.5,"t":8,"a":0}
],
"D":[
{"d":2.5,"t":0,"a":-2.45},{"d":2.5,"t":0.1,"a":-1},{"d":2.5,"t":0.17,"a":0},{"d":2.5,"t":0.28,"a":0.9},{"d":2.5,"t":0.38,"a":1.2},{"d":2.5,"t":0.5,"a":0.6},{"d":2.5,"t":0.58,"a":0},{"d":2.5,"t":0.72,"a":-0.25},{"d":2.5,"t":0.85,"a":0},{"d":2.5,"t":0.97,"a":0.2},{"d":2.5,"t":1.1,"a":0},{"d":2.5,"t":1.27,"a":-0.3},{"d":2.5,"t":1.5,"a":-0.15},{"d":2.5,"t":1.8,"a":-0.1},{"d":2.5,"t":2.2,"a":0.05},{"d":2.5,"t":2.7,"a":0.1},{"d":2.5,"t":3.2,"a":0.05},{"d":2.5,"t":3.8,"a":-0.02},{"d":2.5,"t":4.6,"a":0.02},{"d":2.5,"t":5.5,"a":-0.02},{"d":2.5,"t":6.5,"a":0.02},{"d":2.5,"t":7.5,"a":-0.01},{"d":2.5,"t":8,"a":0},
{"d":3.5,"t":0,"a":-0.3},{"d":3.5,"t":0.2,"a":-0.15},{"d":3.5,"t":0.38,"a":0},{"d":3.5,"t":0.5,"a":0.7},{"d":3.5,"t":0.58,"a":0.9},{"d":3.5,"t":0.7,"a":0.45},{"d":3.5,"t":0.78,"a":0},{"d":3.5,"t":0.88,"a":-0.3},{"d":3.5,"t":0.97,"a":0},{"d":3.5,"t":1.06,"a":0.6},{"d":3.5,"t":1.16,"a":0.88},{"d":3.5,"t":1.3,"a":0.4},{"d":3.5,"t":1.38,"a":0},{"d":3.5,"t":1.52,"a":-0.6},{"d":3.5,"t":1.7,"a":-0.4},{"d":3.5,"t":1.9,"a":0},{"d":3.5,"t":2.15,"a":0.25},{"d":3.5,"t":2.4,"a":0.35},{"d":3.5,"t":2.6,"a":0.15},{"d":3.5,"t":2.7,"a":0},{"d":3.5,"t":3,"a":-0.2},{"d":3.5,"t":3.4,"a":-0.05},{"d":3.5,"t":3.8,"a":0},{"d":3.5,"t":4.4,"a":0.03},{"d":3.5,"t":5.2,"a":-0.02},{"d":3.5,"t":6.2,"a":0.03},{"d":3.5,"t":7.2,"a":-0.02},{"d":3.5,"t":8,"a":0},
{"d":4.5,"t":0,"a":0.1},{"d":4.5,"t":0.2,"a":-0.2},{"d":4.5,"t":0.4,"a":-0.25},{"d":4.5,"t":0.52,"a":0},{"d":4.5,"t":0.66,"a":0.73},{"d":4.5,"t":0.8,"a":0.3},{"d":4.5,"t":0.88,"a":0},{"d":4.5,"t":1.02,"a":-0.4},{"d":4.5,"t":1.2,"a":0},{"d":4.5,"t":1.35,"a":0.5},{"d":4.5,"t":1.5,"a":0.75},{"d":4.5,"t":1.65,"a":0.4},{"d":4.5,"t":1.75,"a":0},{"d":4.5,"t":1.92,"a":-0.6},{"d":4.5,"t":2.05,"a":-0.4},{"d":4.5,"t":2.15,"a":0},{"d":4.5,"t":2.35,"a":0.3},{"d":4.5,"t":2.55,"a":0.15},{"d":4.5,"t":2.65,"a":0},{"d":4.5,"t":2.9,"a":-0.2},{"d":4.5,"t":3.3,"a":0},{"d":4.5,"t":3.8,"a":0.04},{"d":4.5,"t":4.5,"a":-0.02},{"d":4.5,"t":5.5,"a":0.03},{"d":4.5,"t":6.5,"a":-0.02},{"d":4.5,"t":7.5,"a":0.02},{"d":4.5,"t":8,"a":0},
{"d":5.5,"t":0,"a":0.05},{"d":5.5,"t":0.25,"a":-0.1},{"d":5.5,"t":0.45,"a":-0.2},{"d":5.5,"t":0.58,"a":0},{"d":5.5,"t":0.76,"a":0.6},{"d":5.5,"t":0.9,"a":0.3},{"d":5.5,"t":0.97,"a":0},{"d":5.5,"t":1.1,"a":-0.35},{"d":5.5,"t":1.3,"a":-0.2},{"d":5.5,"t":1.45,"a":0},{"d":5.5,"t":1.6,"a":0.5},{"d":5.5,"t":1.77,"a":0.65},{"d":5.5,"t":1.95,"a":0.35},{"d":5.5,"t":2.05,"a":0},{"d":5.5,"t":2.25,"a":-0.6},{"d":5.5,"t":2.45,"a":-0.25},{"d":5.5,"t":2.55,"a":0},{"d":5.5,"t":2.8,"a":0.2},{"d":5.5,"t":3.05,"a":0},{"d":5.5,"t":3.3,"a":-0.1},{"d":5.5,"t":3.7,"a":0},{"d":5.5,"t":4.3,"a":0.04},{"d":5.5,"t":5,"a":-0.02},{"d":5.5,"t":6,"a":0.03},{"d":5.5,"t":7,"a":-0.02},{"d":5.5,"t":8,"a":0},
{"d":6.5,"t":0,"a":0.05},{"d":6.5,"t":0.3,"a":-0.08},{"d":6.5,"t":0.55,"a":-0.2},{"d":6.5,"t":0.72,"a":0},{"d":6.5,"t":0.9,"a":0.5},{"d":6.5,"t":1.05,"a":0.25},{"d":6.5,"t":1.12,"a":0},{"d":6.5,"t":1.3,"a":-0.4},{"d":6.5,"t":1.5,"a":-0.25},{"d":6.5,"t":1.65,"a":0},{"d":6.5,"t":1.85,"a":0.4},{"d":6.5,"t":2.02,"a":0.5},{"d":6.5,"t":2.2,"a":0.25},{"d":6.5,"t":2.3,"a":0},{"d":6.5,"t":2.45,"a":-0.55},{"d":6.5,"t":2.6,"a":-0.3},{"d":6.5,"t":2.75,"a":0},{"d":6.5,"t":2.9,"a":0.1},{"d":6.5,"t":3.1,"a":0},{"d":6.5,"t":3.5,"a":-0.05},{"d":6.5,"t":4,"a":0},{"d":6.5,"t":4.6,"a":0.04},{"d":6.5,"t":5.4,"a":-0.03},{"d":6.5,"t":6.3,"a":0.03},{"d":6.5,"t":7.2,"a":-0.02},{"d":6.5,"t":8,"a":0},
{"d":7.5,"t":0,"a":0.05},{"d":7.5,"t":0.35,"a":-0.08},{"d":7.5,"t":0.65,"a":-0.15},{"d":7.5,"t":0.8,"a":0},{"d":7.5,"t":0.97,"a":0.5},{"d":7.5,"t":1.12,"a":0.25},{"d":7.5,"t":1.2,"a":0},{"d":7.5,"t":1.4,"a":-0.35},{"d":7.5,"t":1.6,"a":-0.2},{"d":7.5,"t":1.75,"a":0},{"d":7.5,"t":1.95,"a":0.15},{"d":7.5,"t":2.1,"a":0.1},{"d":7.5,"t":2.25,"a":0.5},{"d":7.5,"t":2.42,"a":0.6},{"d":7.5,"t":2.58,"a":0.3},{"d":7.5,"t":2.65,"a":0},{"d":7.5,"t":2.85,"a":-0.65},{"d":7.5,"t":3,"a":-0.3},{"d":7.5,"t":3.15,"a":0},{"d":7.5,"t":3.35,"a":0.12},{"d":7.5,"t":3.6,"a":0},{"d":7.5,"t":4,"a":-0.05},{"d":7.5,"t":4.6,"a":0.03},{"d":7.5,"t":5.4,"a":-0.02},{"d":7.5,"t":6.3,"a":0.03},{"d":7.5,"t":7.2,"a":-0.02},{"d":7.5,"t":8,"a":0},
{"d":8.5,"t":0,"a":0.05},{"d":8.5,"t":0.4,"a":-0.05},{"d":8.5,"t":0.8,"a":-0.12},{"d":8.5,"t":1,"a":0},{"d":8.5,"t":1.25,"a":0.45},{"d":8.5,"t":1.45,"a":0.2},{"d":8.5,"t":1.52,"a":0},{"d":8.5,"t":1.7,"a":-0.3},{"d":8.5,"t":1.9,"a":-0.15},{"d":8.5,"t":2.1,"a":0},{"d":8.5,"t":2.4,"a":0.3},{"d":8.5,"t":2.67,"a":0.38},{"d":8.5,"t":2.9,"a":0.2},{"d":8.5,"t":3,"a":0},{"d":8.5,"t":3.2,"a":-0.35},{"d":8.5,"t":3.4,"a":-0.1},{"d":8.5,"t":3.5,"a":0},{"d":8.5,"t":3.67,"a":0.18},{"d":8.5,"t":3.85,"a":0},{"d":8.5,"t":4.2,"a":-0.05},{"d":8.5,"t":4.8,"a":0.03},{"d":8.5,"t":5.6,"a":-0.02},{"d":8.5,"t":6.5,"a":0.03},{"d":8.5,"t":7.4,"a":-0.02},{"d":8.5,"t":8,"a":0},
{"d":9.5,"t":0,"a":0.05},{"d":9.5,"t":0.4,"a":-0.05},{"d":9.5,"t":0.85,"a":-0.15},{"d":9.5,"t":1.05,"a":0},{"d":9.5,"t":1.27,"a":0.42},{"d":9.5,"t":1.45,"a":0.2},{"d":9.5,"t":1.52,"a":0},{"d":9.5,"t":1.7,"a":-0.3},{"d":9.5,"t":1.95,"a":-0.1},{"d":9.5,"t":2.2,"a":0},{"d":9.5,"t":2.6,"a":0.25},{"d":9.5,"t":2.97,"a":0.38},{"d":9.5,"t":3.2,"a":0.15},{"d":9.5,"t":3.3,"a":0},{"d":9.5,"t":3.52,"a":-0.6},{"d":9.5,"t":3.65,"a":-0.3},{"d":9.5,"t":3.7,"a":0},{"d":9.5,"t":3.8,"a":0.2},{"d":9.5,"t":3.95,"a":0},{"d":9.5,"t":4.2,"a":-0.08},{"d":9.5,"t":4.6,"a":0},{"d":9.5,"t":5.2,"a":0.03},{"d":9.5,"t":6,"a":-0.02},{"d":9.5,"t":6.9,"a":0.03},{"d":9.5,"t":7.7,"a":-0.02},{"d":9.5,"t":8,"a":0},
{"d":10.5,"t":0,"a":0.05},{"d":10.5,"t":0.5,"a":-0.05},{"d":10.5,"t":0.95,"a":-0.12},{"d":10.5,"t":1.2,"a":0},{"d":10.5,"t":1.42,"a":0.33},{"d":10.5,"t":1.6,"a":0.1},{"d":10.5,"t":1.65,"a":0},{"d":10.5,"t":1.85,"a":-0.2},{"d":10.5,"t":2.1,"a":-0.05},{"d":10.5,"t":2.4,"a":0},{"d":10.5,"t":2.8,"a":0.05},{"d":10.5,"t":3.15,"a":0.2},{"d":10.5,"t":3.47,"a":0.45},{"d":10.5,"t":3.7,"a":0.15},{"d":10.5,"t":3.78,"a":0},{"d":10.5,"t":3.97,"a":-0.65},{"d":10.5,"t":4.15,"a":-0.3},{"d":10.5,"t":4.3,"a":0},{"d":10.5,"t":4.5,"a":0.1},{"d":10.5,"t":4.78,"a":0.25},{"d":10.5,"t":4.95,"a":0},{"d":10.5,"t":5.2,"a":-0.08},{"d":10.5,"t":5.6,"a":0},{"d":10.5,"t":6.2,"a":0.04},{"d":10.5,"t":7,"a":-0.02},{"d":10.5,"t":8,"a":0.02},
{"d":11.5,"t":0,"a":0.05},{"d":11.5,"t":0.5,"a":-0.04},{"d":11.5,"t":1,"a":0.04},{"d":11.5,"t":1.3,"a":-0.05},{"d":11.5,"t":1.45,"a":0},{"d":11.5,"t":1.62,"a":0.25},{"d":11.5,"t":1.8,"a":0},{"d":11.5,"t":2.1,"a":-0.1},{"d":11.5,"t":2.5,"a":0.05},{"d":11.5,"t":3,"a":-0.05},{"d":11.5,"t":3.4,"a":0},{"d":11.5,"t":3.72,"a":0.25},{"d":11.5,"t":3.95,"a":0.1},{"d":11.5,"t":4.05,"a":0},{"d":11.5,"t":4.4,"a":-0.55},{"d":11.5,"t":4.6,"a":-0.2},{"d":11.5,"t":4.65,"a":0},{"d":11.5,"t":4.83,"a":0.3},{"d":11.5,"t":5,"a":0},{"d":11.5,"t":5.3,"a":-0.08},{"d":11.5,"t":5.8,"a":0},{"d":11.5,"t":6.4,"a":0.03},{"d":11.5,"t":7.2,"a":-0.02},{"d":11.5,"t":8,"a":0.02},
{"d":12.5,"t":0,"a":0.05},{"d":12.5,"t":0.5,"a":-0.04},{"d":12.5,"t":1,"a":0.04},{"d":12.5,"t":1.35,"a":0},{"d":12.5,"t":1.57,"a":0.25},{"d":12.5,"t":1.8,"a":0},{"d":12.5,"t":2.1,"a":-0.1},{"d":12.5,"t":2.5,"a":0.04},{"d":12.5,"t":3,"a":-0.04},{"d":12.5,"t":3.45,"a":0},{"d":12.5,"t":3.7,"a":0.15},{"d":12.5,"t":3.93,"a":0.25},{"d":12.5,"t":4.1,"a":0.1},{"d":12.5,"t":4.2,"a":0},{"d":12.5,"t":4.48,"a":-0.55},{"d":12.5,"t":4.7,"a":-0.2},{"d":12.5,"t":4.8,"a":0},{"d":12.5,"t":5,"a":0.15},{"d":12.5,"t":5.2,"a":0},{"d":12.5,"t":5.5,"a":-0.05},{"d":12.5,"t":6,"a":0.02},{"d":12.5,"t":6.8,"a":-0.02},{"d":12.5,"t":7.6,"a":0.02},{"d":12.5,"t":8,"a":0},
{"d":13.5,"t":0,"a":0.05},{"d":13.5,"t":0.5,"a":-0.03},{"d":13.5,"t":1,"a":0.05},{"d":13.5,"t":1.5,"a":-0.05},{"d":13.5,"t":1.8,"a":0},{"d":13.5,"t":2,"a":0.25},{"d":13.5,"t":2.2,"a":0},{"d":13.5,"t":2.5,"a":-0.08},{"d":13.5,"t":3,"a":0.04},{"d":13.5,"t":3.5,"a":-0.05},{"d":13.5,"t":3.9,"a":0},{"d":13.5,"t":4.1,"a":0.15},{"d":13.5,"t":4.28,"a":0.25},{"d":13.5,"t":4.5,"a":0.05},{"d":13.5,"t":4.6,"a":0},{"d":13.5,"t":4.98,"a":-0.5},{"d":13.5,"t":5.15,"a":-0.15},{"d":13.5,"t":5.2,"a":0},{"d":13.5,"t":5.38,"a":0.25},{"d":13.5,"t":5.55,"a":0},{"d":13.5,"t":5.9,"a":-0.08},{"d":13.5,"t":6.4,"a":0.02},{"d":13.5,"t":7.2,"a":-0.02},{"d":13.5,"t":8,"a":0},
{"d":14.5,"t":0,"a":0.05},{"d":14.5,"t":0.5,"a":-0.03},{"d":14.5,"t":1,"a":0.05},{"d":14.5,"t":1.5,"a":-0.05},{"d":14.5,"t":1.95,"a":0},{"d":14.5,"t":2.17,"a":0.12},{"d":14.5,"t":2.4,"a":0},{"d":14.5,"t":2.8,"a":-0.06},{"d":14.5,"t":3.3,"a":0.04},{"d":14.5,"t":3.8,"a":-0.05},{"d":14.5,"t":4.2,"a":0},{"d":14.5,"t":4.45,"a":0.2},{"d":14.5,"t":4.68,"a":0.3},{"d":14.5,"t":4.9,"a":0.1},{"d":14.5,"t":4.97,"a":0},{"d":14.5,"t":5.23,"a":-0.63},{"d":14.5,"t":5.4,"a":-0.2},{"d":14.5,"t":5.45,"a":0},{"d":14.5,"t":5.6,"a":0.3},{"d":14.5,"t":5.73,"a":0.38},{"d":14.5,"t":5.9,"a":0.15},{"d":14.5,"t":6,"a":0},{"d":14.5,"t":6.4,"a":-0.08},{"d":14.5,"t":7,"a":0.02},{"d":14.5,"t":7.6,"a":-0.02},{"d":14.5,"t":8,"a":0},
{"d":16.5,"t":0,"a":0.03},{"d":16.5,"t":0.5,"a":-0.04},{"d":16.5,"t":1,"a":0.04},{"d":16.5,"t":1.5,"a":-0.03},{"d":16.5,"t":2.1,"a":-0.1},{"d":16.5,"t":2.2,"a":0},{"d":16.5,"t":2.37,"a":0.18},{"d":16.5,"t":2.55,"a":0},{"d":16.5,"t":2.8,"a":-0.05},{"d":16.5,"t":3.3,"a":0.03},{"d":16.5,"t":3.8,"a":-0.05},{"d":16.5,"t":4.3,"a":0.02},{"d":16.5,"t":4.6,"a":0},{"d":16.5,"t":4.88,"a":0.3},{"d":16.5,"t":5.1,"a":0.1},{"d":16.5,"t":5.2,"a":0},{"d":16.5,"t":5.6,"a":-0.3},{"d":16.5,"t":5.98,"a":-0.4},{"d":16.5,"t":6.2,"a":0},{"d":16.5,"t":6.43,"a":0.3},{"d":16.5,"t":6.6,"a":0},{"d":16.5,"t":6.9,"a":-0.1},{"d":16.5,"t":7.3,"a":-0.15},{"d":16.5,"t":7.7,"a":0},{"d":16.5,"t":8,"a":0.02},
{"d":17.5,"t":0,"a":0.03},{"d":17.5,"t":0.5,"a":0.05},{"d":17.5,"t":1,"a":-0.04},{"d":17.5,"t":1.5,"a":0.04},{"d":17.5,"t":2,"a":-0.05},{"d":17.5,"t":2.4,"a":0},{"d":17.5,"t":2.67,"a":0.3},{"d":17.5,"t":2.85,"a":0},{"d":17.5,"t":2.95,"a":-0.1},{"d":17.5,"t":3.3,"a":0},{"d":17.5,"t":3.9,"a":0.1},{"d":17.5,"t":4.3,"a":-0.05},{"d":17.5,"t":4.6,"a":0.08},{"d":17.5,"t":5,"a":-0.05},{"d":17.5,"t":5.2,"a":-0.15},{"d":17.5,"t":5.4,"a":0},{"d":17.5,"t":5.78,"a":0.38},{"d":17.5,"t":6.1,"a":0.15},{"d":17.5,"t":6.25,"a":0},{"d":17.5,"t":6.53,"a":-0.5},{"d":17.5,"t":6.75,"a":-0.1},{"d":17.5,"t":6.8,"a":0},{"d":17.5,"t":7.09,"a":0.58},{"d":17.5,"t":7.35,"a":0.3},{"d":17.5,"t":7.5,"a":0},{"d":17.5,"t":7.7,"a":-0.03},{"d":17.5,"t":8,"a":0}
]
},
"vconcat":[
{"spacing":3.8,"hconcat":[
{"width":265.5,"height":264,"resolve":{"axis":{"x":"independent","y":"independent"}},"layer":[
{"data":{"name":"A"},"transform":[{"calculate":"datum.d+max(datum.a,0)","as":"yf"}],"mark":{"type":"area","interpolate":"monotone","color":"#333333","clip":true},
"encoding":{"x":{"field":"t","type":"quantitative","scale":{"domain":[0,8],"nice":false,"zero":false},"axis":{"orient":"bottom","values":[0,1,2,3,4,5,6,7,8],"labels":false,"title":null,"tickSize":{"condition":{"test":"datum.value%5===0","value":10},"value":5}}},
"y":{"field":"yf","type":"quantitative","scale":{"domain":[0,20],"nice":false},"axis":{"orient":"left","values":[0,1,2,3,4,5,6,7,8,9,10,11,12,13,14,15,16,17,18,19,20],"labelExpr":"datum.value%5===0?datum.label:''","title":"Distance [km]","titlePadding":18,"tickSize":{"condition":{"test":"datum.value%5===0","value":10},"value":5}}},
"y2":{"field":"d"},"detail":{"field":"d","type":"nominal"}}},
{"data":{"name":"A"},"transform":[{"calculate":"datum.d+datum.a","as":"y"}],"mark":{"type":"line","interpolate":"monotone","color":"black","strokeWidth":1,"clip":true},
"encoding":{"x":{"field":"t","type":"quantitative","axis":{"orient":"top","values":[0,1,2,3,4,5,6,7,8],"labels":false,"title":null,"tickSize":{"condition":{"test":"datum.value%5===0","value":10},"value":5}}},
"y":{"field":"y","type":"quantitative","axis":{"orient":"right","values":[0,1,2,3,4,5,6,7,8,9,10,11,12,13,14,15,16,17,18,19,20],"labels":false,"title":null,"tickSize":{"condition":{"test":"datum.value%5===0","value":10},"value":5}}},
"detail":{"field":"d","type":"nominal"}}},
{"data":{"name":"g"},"mark":{"type":"line","color":"#777777","strokeWidth":1.3,"strokeDash":[8,5],"clip":true},"encoding":{"x":{"field":"t","type":"quantitative","axis":null},"y":{"field":"y","type":"quantitative","axis":null},"detail":{"field":"k"}}},
{"data":{"name":"lab"},"transform":[{"filter":"datum.p==='A'"}],"mark":{"type":"text","align":"right","baseline":"alphabetic","font":"DejaVu Serif","fontWeight":"bold","fontSize":21,"color":"black"},"encoding":{"x":{"field":"t","type":"quantitative","axis":null},"y":{"field":"y","type":"quantitative","axis":null},"text":{"field":"s"}}}
]},
{"width":265.5,"height":264,"resolve":{"axis":{"x":"independent","y":"independent"}},"layer":[
{"data":{"name":"B"},"transform":[{"calculate":"datum.d+max(datum.a,0)","as":"yf"}],"mark":{"type":"area","interpolate":"monotone","color":"#ff0000","clip":true},
"encoding":{"x":{"field":"t","type":"quantitative","scale":{"domain":[0,8],"nice":false,"zero":false},"axis":{"orient":"bottom","values":[0,1,2,3,4,5,6,7,8],"labels":false,"title":null,"tickSize":{"condition":{"test":"datum.value%5===0","value":10},"value":5}}},
"y":{"field":"yf","type":"quantitative","scale":{"domain":[0,20],"nice":false},"axis":{"orient":"left","values":[0,1,2,3,4,5,6,7,8,9,10,11,12,13,14,15,16,17,18,19,20],"labels":false,"title":null,"tickSize":{"condition":{"test":"datum.value%5===0","value":10},"value":5}}},
"y2":{"field":"d"},"detail":{"field":"d","type":"nominal"}}},
{"data":{"name":"B"},"transform":[{"calculate":"datum.d+datum.a","as":"y"}],"mark":{"type":"line","interpolate":"monotone","color":"black","strokeWidth":1,"clip":true},
"encoding":{"x":{"field":"t","type":"quantitative","axis":{"orient":"top","values":[0,1,2,3,4,5,6,7,8],"labels":false,"title":null,"tickSize":{"condition":{"test":"datum.value%5===0","value":10},"value":5}}},
"y":{"field":"y","type":"quantitative","axis":{"orient":"right","values":[0,1,2,3,4,5,6,7,8,9,10,11,12,13,14,15,16,17,18,19,20],"labels":false,"title":null,"tickSize":{"condition":{"test":"datum.value%5===0","value":10},"value":5}}},
"detail":{"field":"d","type":"nominal"}}},
{"data":{"name":"g"},"mark":{"type":"line","color":"#777777","strokeWidth":1.3,"strokeDash":[8,5],"clip":true},"encoding":{"x":{"field":"t","type":"quantitative","axis":null},"y":{"field":"y","type":"quantitative","axis":null},"detail":{"field":"k"}}},
{"data":{"name":"lab"},"transform":[{"filter":"datum.p==='B'"}],"mark":{"type":"text","align":"right","baseline":"alphabetic","font":"Liberation Sans","fontWeight":"bold","fontSize":22,"color":"#ff0000"},"encoding":{"x":{"field":"t","type":"quantitative","axis":null},"y":{"field":"y","type":"quantitative","axis":null},"text":{"field":"s"}}}
]}
]},
{"spacing":3.8,"hconcat":[
{"width":265.5,"height":264,"resolve":{"axis":{"x":"independent","y":"independent"}},"layer":[
{"data":{"name":"C"},"transform":[{"calculate":"datum.d+max(datum.a,0)","as":"yf"}],"mark":{"type":"area","interpolate":"monotone","color":"#0000ff","clip":true},
"encoding":{"x":{"field":"t","type":"quantitative","scale":{"domain":[0,8],"nice":false,"zero":false},"axis":{"orient":"bottom","values":[0,1,2,3,4,5,6,7,8],"labelExpr":"datum.value%5===0?datum.label:''","title":"Lagtime [s]","titlePadding":12,"tickSize":{"condition":{"test":"datum.value%5===0","value":10},"value":5}}},
"y":{"field":"yf","type":"quantitative","scale":{"domain":[0,20],"nice":false},"axis":{"orient":"left","values":[0,1,2,3,4,5,6,7,8,9,10,11,12,13,14,15,16,17,18,19,20],"labelExpr":"datum.value%5===0?datum.label:''","title":"Distance [km]","titlePadding":18,"tickSize":{"condition":{"test":"datum.value%5===0","value":10},"value":5}}},
"y2":{"field":"d"},"detail":{"field":"d","type":"nominal"}}},
{"data":{"name":"C"},"transform":[{"calculate":"datum.d+datum.a","as":"y"}],"mark":{"type":"line","interpolate":"monotone","color":"black","strokeWidth":1,"clip":true},
"encoding":{"x":{"field":"t","type":"quantitative","axis":{"orient":"top","values":[0,1,2,3,4,5,6,7,8],"labels":false,"title":null,"tickSize":{"condition":{"test":"datum.value%5===0","value":10},"value":5}}},
"y":{"field":"y","type":"quantitative","axis":{"orient":"right","values":[0,1,2,3,4,5,6,7,8,9,10,11,12,13,14,15,16,17,18,19,20],"labels":false,"title":null,"tickSize":{"condition":{"test":"datum.value%5===0","value":10},"value":5}}},
"detail":{"field":"d","type":"nominal"}}},
{"data":{"name":"g"},"mark":{"type":"line","color":"#777777","strokeWidth":1.3,"strokeDash":[8,5],"clip":true},"encoding":{"x":{"field":"t","type":"quantitative","axis":null},"y":{"field":"y","type":"quantitative","axis":null},"detail":{"field":"k"}}},
{"data":{"name":"lab"},"transform":[{"filter":"datum.p==='C'"}],"mark":{"type":"text","align":"right","baseline":"alphabetic","font":"Liberation Sans","fontWeight":"bold","fontSize":22,"color":"#0000ff"},"encoding":{"x":{"field":"t","type":"quantitative","axis":null},"y":{"field":"y","type":"quantitative","axis":null},"text":{"field":"s"}}}
]},
{"width":265.5,"height":264,"resolve":{"axis":{"x":"independent","y":"independent"}},"layer":[
{"data":{"name":"D"},"transform":[{"calculate":"datum.d+max(datum.a,0)","as":"yf"}],"mark":{"type":"area","interpolate":"monotone","color":"#333333","clip":true},
"encoding":{"x":{"field":"t","type":"quantitative","scale":{"domain":[0,8],"nice":false,"zero":false},"axis":{"orient":"bottom","values":[0,1,2,3,4,5,6,7,8],"labelExpr":"datum.value%5===0?datum.label:''","title":"Lagtime [s]","titlePadding":12,"tickSize":{"condition":{"test":"datum.value%5===0","value":10},"value":5}}},
"y":{"field":"yf","type":"quantitative","scale":{"domain":[0,20],"nice":false},"axis":{"orient":"left","values":[0,1,2,3,4,5,6,7,8,9,10,11,12,13,14,15,16,17,18,19,20],"labels":false,"title":null,"tickSize":{"condition":{"test":"datum.value%5===0","value":10},"value":5}}},
"y2":{"field":"d"},"detail":{"field":"d","type":"nominal"}}},
{"data":{"name":"D"},"transform":[{"calculate":"datum.d+datum.a","as":"y"}],"mark":{"type":"line","interpolate":"monotone","color":"black","strokeWidth":1,"clip":true},
"encoding":{"x":{"field":"t","type":"quantitative","axis":{"orient":"top","values":[0,1,2,3,4,5,6,7,8],"labels":false,"title":null,"tickSize":{"condition":{"test":"datum.value%5===0","value":10},"value":5}}},
"y":{"field":"y","type":"quantitative","axis":{"orient":"right","values":[0,1,2,3,4,5,6,7,8,9,10,11,12,13,14,15,16,17,18,19,20],"labels":false,"title":null,"tickSize":{"condition":{"test":"datum.value%5===0","value":10},"value":5}}},
"detail":{"field":"d","type":"nominal"}}},
{"data":{"name":"g"},"mark":{"type":"line","color":"#777777","strokeWidth":1.3,"strokeDash":[8,5],"clip":true},"encoding":{"x":{"field":"t","type":"quantitative","axis":null},"y":{"field":"y","type":"quantitative","axis":null},"detail":{"field":"k"}}},
{"data":{"name":"lab"},"transform":[{"filter":"datum.p==='D'"}],"mark":{"type":"text","align":"right","baseline":"alphabetic","font":"DejaVu Serif","fontWeight":"bold","fontSize":21,"color":"black"},"encoding":{"x":{"field":"t","type":"quantitative","axis":null},"y":{"field":"y","type":"quantitative","axis":null},"text":{"field":"s"}}}
]}
]}
]
}
